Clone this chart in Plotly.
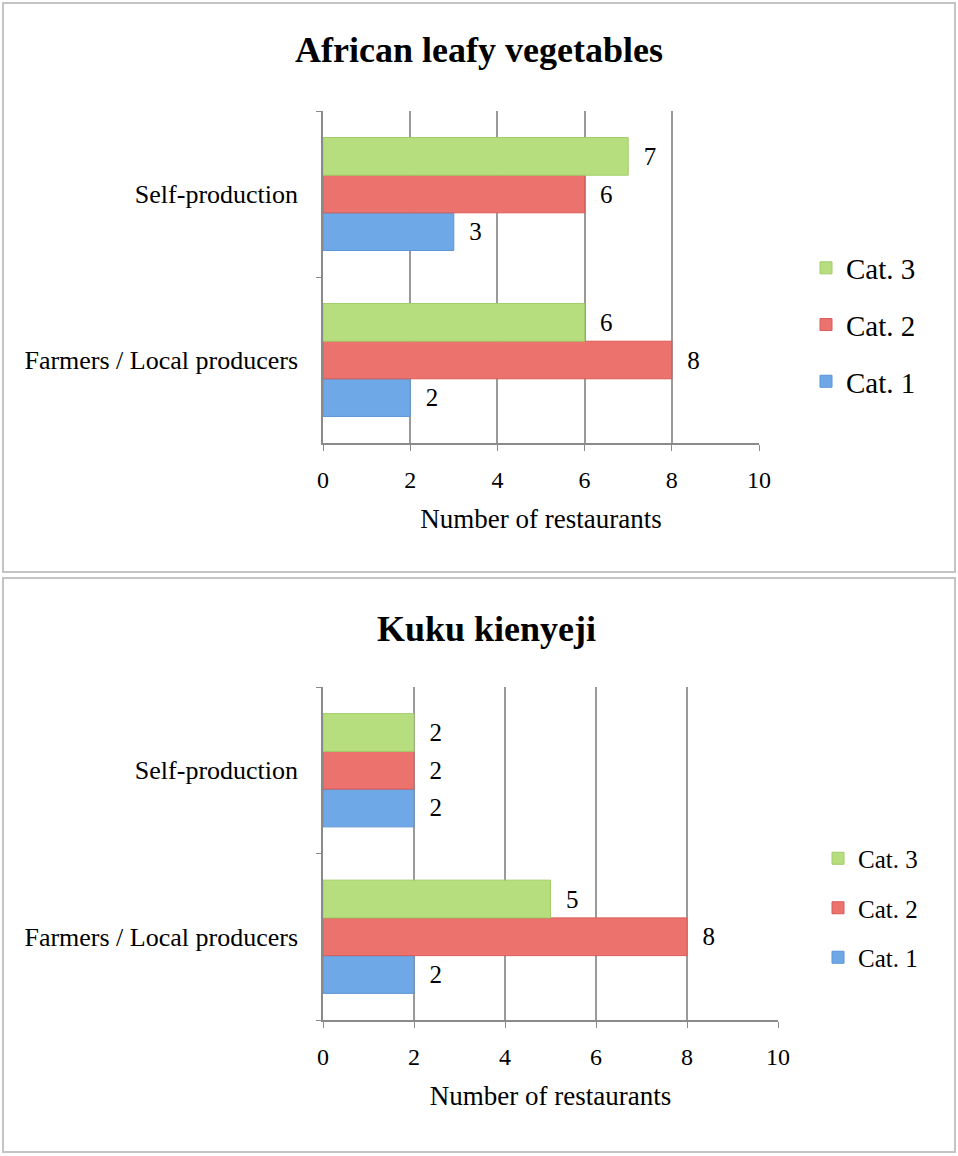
import plotly.graph_objects as go

# data
sources = ['Farmers / Local producers', 'Self-production']
cat_names = ['Cat. 1', 'Cat. 2', 'Cat. 3']
alv_values = [[2, 3], [8, 6], [6, 7]]      # African leafy vegetables
kuku_values = [[2, 2], [8, 2], [5, 2]]     # Kuku kienyeji
x_ticks = [0, 2, 4, 6, 8, 10]

colors = ['#6ea8e6', '#ec726e', '#b6de7e']
edge_colors = ['#5a94d4', '#d85c58', '#a0cc66']

W, H = 958, 1156
SERIF = 'Liberation Serif'

fig = go.Figure()

for i, name in enumerate(cat_names):
    fig.add_trace(go.Bar(
        y=sources, x=alv_values[i], orientation='h', name=name,
        marker=dict(color=colors[i], line=dict(color=edge_colors[i], width=1)),
        texttemplate='\u00a0\u00a0%{x}', textposition='outside',
        textfont=dict(family=SERIF, size=25, color='black'),
        cliponaxis=False, legend='legend', legendgroup='a' + str(i),
        legendrank=3 - i, xaxis='x', yaxis='y',
    ))

for i, name in enumerate(cat_names):
    fig.add_trace(go.Bar(
        y=sources, x=kuku_values[i], orientation='h', name=name,
        marker=dict(color=colors[i], line=dict(color=edge_colors[i], width=1)),
        texttemplate='\u00a0\u00a0%{x}', textposition='outside',
        textfont=dict(family=SERIF, size=25, color='black'),
        cliponaxis=False, legend='legend2', legendgroup='b' + str(i),
        legendrank=3 - i, xaxis='x2', yaxis='y2',
    ))


def xa(domain, anchor):
    return dict(
        domain=domain, anchor=anchor, range=[0, 10], tickvals=x_ticks,
        showgrid=True, gridcolor='#9a9a9a', gridwidth=1.5, zeroline=False,
        showline=True, linecolor='#8a8a8a', linewidth=1.5,
        ticks='outside', ticklen=6, tickcolor='#8a8a8a',
        ticklabelstandoff=8, automargin=False,
        tickfont=dict(family=SERIF, size=24, color='black'),
        title=dict(text='Number of restaurants', standoff=18,
                   font=dict(family=SERIF, size=27, color='black')),
        fixedrange=True,
    )


def ya(domain, anchor):
    return dict(
        domain=domain, anchor=anchor, type='category',
        showgrid=False, zeroline=False,
        showline=True, linecolor='#8a8a8a', linewidth=1.5,
        ticks='outside', ticklen=5, tickcolor='#8a8a8a', tickson='boundaries',
        ticklabelstandoff=18, automargin=False,
        tickfont=dict(family=SERIF, size=26, color='black'),
        fixedrange=True,
    )


fig.update_layout(
    width=W, height=H,
    margin=dict(l=0, r=0, t=0, b=0, autoexpand=False),
    paper_bgcolor='white', plot_bgcolor='white',
    barmode='group', bargap=0.32, bargroupgap=0,
    xaxis=xa([323 / W, 759 / W], 'y'),
    yaxis=ya([1 - 443 / H, 1 - 111 / H], 'x'),
    xaxis2=xa([323 / W, 778 / W], 'y2'),
    yaxis2=ya([1 - 1020 / H, 1 - 687 / H], 'x2'),
    legend=dict(
        x=806 / W, y=1 - 325 / H, xanchor='left', yanchor='middle',
        traceorder='grouped', tracegroupgap=16,
        font=dict(family=SERIF, size=29, color='black'),
        bgcolor='rgba(0,0,0,0)',
    ),
    legend2=dict(
        x=818 / W, y=1 - 908 / H, xanchor='left', yanchor='middle',
        traceorder='grouped', tracegroupgap=14,
        font=dict(family=SERIF, size=25, color='black'),
        bgcolor='rgba(0,0,0,0)',
    ),
    showlegend=True,
)

# panel frames
for y0, y1 in [(3, 572), (578, 1152)]:
    fig.add_shape(type='rect', xref='paper', yref='paper',
                  x0=3 / W, x1=955 / W, y0=1 - y1 / H, y1=1 - y0 / H,
                  line=dict(color='#c4c4c4', width=2), layer='below')

# panel titles
fig.add_annotation(text='<b>African leafy vegetables</b>', xref='paper', yref='paper',
                   x=479 / W, y=1 - 50 / H, yanchor='middle', showarrow=False,
                   font=dict(family=SERIF, size=36, color='black'))
fig.add_annotation(text='<b>Kuku kienyeji</b>', xref='paper', yref='paper',
                   x=486 / W, y=1 - 629 / H, yanchor='middle', showarrow=False,
                   font=dict(family=SERIF, size=36, color='black'))

fig.write_html('out.html', config={'displayModeBar': False},
               post_script="document.body.style.margin='0';")
